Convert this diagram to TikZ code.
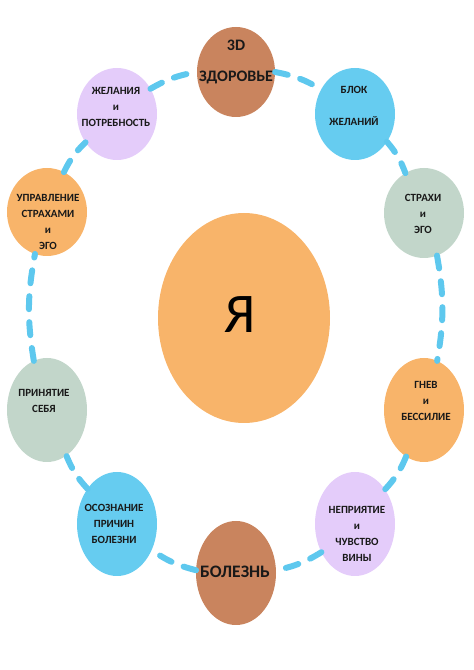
\documentclass[tikz,border=0pt]{standalone}
\usepackage{fontspec}
\setmainfont{Carlito}
\usetikzlibrary{shapes.geometric}
\definecolor{cbrown}{HTML}{C9845E}
\definecolor{clav}{HTML}{E4CCFA}
\definecolor{cblue}{HTML}{66CCF0}
\definecolor{cgreen}{HTML}{C2D6CA}
\definecolor{corange}{HTML}{F8B46A}
\definecolor{cdash}{HTML}{5EC8EE}
\tikzset{
  bub/.style={ellipse, draw=none, inner sep=0pt, outer sep=0pt},
  small/.style={bub, minimum width=80pt, minimum height=90pt},
  tall/.style={bub, minimum width=80pt, minimum height=104pt},
  lbl/.style={align=center, inner sep=0pt, text=black!90, font=\bfseries\fontsize{11}{16}\selectfont},
  big/.style={align=center, inner sep=0pt, text=black!90, font=\bfseries\fontsize{16}{19}\selectfont},
  link/.style={draw=cdash, line width=6pt, line cap=round, dash pattern=on 13pt off 13pt, bend left=10}
}
\begin{document}
\begin{tikzpicture}[x=1pt,y=1pt]
\useasboundingbox (0,0) rectangle (474,670);
% bubbles
\node[small, fill=cbrown, minimum width=78pt] (A) at (236,598) {};
\node[small, fill=cblue, minimum height=92pt] (B) at (355,556) {};
\node[small, fill=cgreen] (C) at (424,457) {};
\node[tall, fill=corange] (D) at (424,260) {};
\node[tall, fill=clav] (E) at (355,146) {};
\node[tall, fill=cbrown] (F) at (236,97) {};
\node[tall, fill=cblue] (G) at (117,146) {};
\node[tall, fill=cgreen] (H) at (47,260) {};
\node[small, fill=corange, minimum height=88pt] (I) at (47,458) {};
\node[small, fill=clav, minimum height=92pt] (J) at (117,556) {};
\node[bub, fill=corange, minimum width=172pt, minimum height=210pt] (Y) at (244,352) {};
% connectors
\draw[link] (A.0) to (B.144);
\draw[link] (B.-41) to (C.115);
\draw[link] (C.-73) to (D.75);
\draw[link] (D.249) to (E.49);
\draw[link] (E.220) to (F.4);
\draw[link] (F.176) to (G.-37);
\draw[link] (G.130) to (H.-67);
\draw[link] (H.105) to (I.254);
\draw[link] (I.67) to (J.222);
\draw[link] (J.37) to (A.180);
% labels
\node[big] (tA) at (236,608) {3D\\[12pt]ЗДОРОВЬЕ};
\node[lbl] (tB) at (354,564) {БЛОК\\[16pt]ЖЕЛАНИЙ};
\node[lbl] (tC) at (423,456) {СТРАХИ\\и\\ЭГО};
\node[lbl] (tD) at (426,269) {ГНЕВ\\и\\БЕССИЛИЕ};
\node[lbl] (tE) at (357,136) {НЕПРИЯТИЕ\\и\\ЧУВСТВО\\ВИНЫ};
\node[inner sep=0pt, text=black!90, font=\bfseries\fontsize{17.5}{20}\selectfont] (tF) at (235,98) {БОЛЕЗНЬ};
\node[lbl] (tG) at (114,146) {ОСОЗНАНИЕ\\ПРИЧИН\\БОЛЕЗНИ};
\node[lbl] (tH) at (44,269) {ПРИНЯТИЕ\\СЕБЯ};
\node[lbl] (tI) at (48,448) {УПРАВЛЕНИЕ\\СТРАХАМИ\\и\\ЭГО};
\node[lbl] (tJ) at (116,563.5) {ЖЕЛАНИЯ\\и\\ПОТРЕБНОСТЬ};
\node[inner sep=0pt, font=\fontsize{56}{60}\selectfont] (tY) at (240,355) {Я};
\end{tikzpicture}
\end{document}
